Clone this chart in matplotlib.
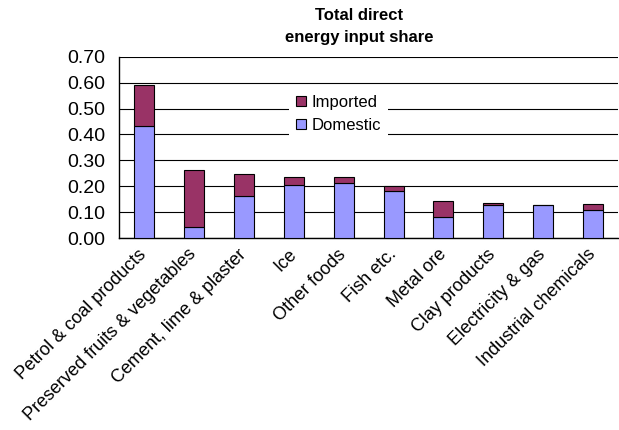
import matplotlib
matplotlib.use("Agg")
import matplotlib.pyplot as plt
import numpy as np

plt.rcParams['font.family'] = ['Liberation Sans', 'DejaVu Sans']

categories = ["Petrol & coal products", "Preserved fruits & vegetables",
              "Cement, lime & plaster", "Ice", "Other foods", "Fish etc.",
              "Metal ore", "Clay products", "Electricity & gas",
              "Industrial chemicals"]
domestic = [0.432, 0.042, 0.162, 0.203, 0.212, 0.182, 0.083, 0.128, 0.127, 0.108]
imported = [0.159, 0.221, 0.085, 0.033, 0.025, 0.017, 0.058, 0.007, 0.001, 0.022]
yticks = [0.0, 0.1, 0.2, 0.3, 0.4, 0.5, 0.6, 0.7]

fig = plt.figure(figsize=(6.19, 4.30), dpi=100)
ax = fig.add_axes([0.1925, 0.4465, 0.806, 0.4215])

x = np.arange(len(categories))
ax.bar(x, domestic, width=0.4, color='#9999FF', edgecolor='black', linewidth=0.8,
       label='Domestic', zorder=3)
ax.bar(x, imported, bottom=domestic, width=0.4, color='#993366', edgecolor='black',
       linewidth=0.8, label='Imported', zorder=3)

ax.set_xlim(-0.5, len(categories) - 0.5)
ax.set_ylim(0, 0.70)
ax.set_yticks(yticks)
ax.set_yticklabels([f"{v:.2f}" for v in yticks], fontsize=14)
ax.set_xticks(x)
ax.set_xticklabels(categories, rotation=45, ha='right', va='center',
                   rotation_mode='anchor', fontsize=13)
ax.tick_params(axis='x', length=0, pad=10)
ax.tick_params(axis='y', length=0, pad=10)
ax.yaxis.grid(True, color='black', linewidth=0.8, zorder=0)
ax.set_axisbelow(True)
for s in ['top', 'right']:
    ax.spines[s].set_visible(False)
for s in ['left', 'bottom']:
    ax.spines[s].set_linewidth(1.0)

h, l = ax.get_legend_handles_labels()
leg = ax.legend([h[1], h[0]], [l[1], l[0]], loc='upper left',
                bbox_to_anchor=(289 / 619, 1 - 88 / 430),
                bbox_transform=fig.transFigure, borderaxespad=0,
                frameon=True, fontsize=12,
                handlelength=0.6, handleheight=0.6, handletextpad=0.35,
                labelspacing=0.5, borderpad=0.4, fancybox=False)
leg.get_frame().set_edgecolor('none')
leg.get_frame().set_facecolor('white')
leg.get_frame().set_alpha(1)
leg.set_zorder(5)

fig.text(0.58, 0.982, "Total direct\nenergy input share", ha='center', va='top',
         fontsize=12, fontweight='bold', linespacing=1.6)

fig.savefig("out.png", dpi=100)
